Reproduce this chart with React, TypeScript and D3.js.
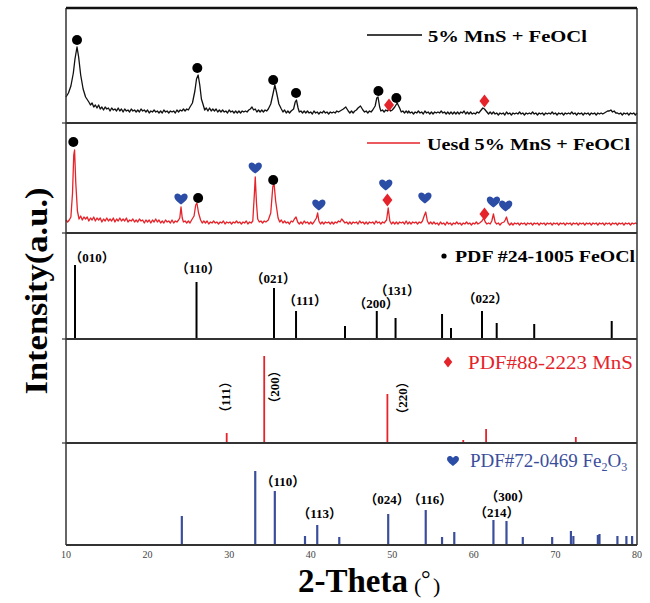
import React from 'react';
import * as d3 from 'd3';

// ---------- DATA ----------
const X_TICKS = [10, 20, 30, 40, 50, 60, 70, 80];

// 5% MnS + FeOCl (fresh) pattern: [2theta, intensity a.u.]
const FRESH_PATTERN: [number, number][] = [
  [10.0, 26], [10.3, 30], [10.6, 37], [10.9, 50], [11.1, 64], [11.35, 76], [11.55, 66], [11.8, 48], [12.1, 34], [12.4, 26],
  [12.8, 21], [13.0, 18], [13.2, 20], [13.4, 16], [13.6, 18], [13.8, 15], [14.0, 18], [14.2, 14], [14.4, 16], [14.6, 13], [14.8, 16], [15.0, 14], [15.2, 15], [15.4, 12], [15.6, 15], [15.8, 13], [16.0, 14], [16.2, 12], [16.4, 15],
  [16.6, 12], [16.8, 14], [17.0, 11], [17.2, 14], [17.4, 12], [17.6, 13], [17.8, 11], [18.0, 14], [18.2, 12], [18.4, 13], [18.6, 11], [18.8, 13], [19.0, 11], [19.2, 14], [19.4, 12], [19.6, 13], [19.8, 11], [20.0, 13], [20.2, 10], [20.4, 12],
  [20.6, 11], [20.8, 13], [21.0, 11], [21.2, 12], [21.4, 10], [21.6, 12], [21.8, 10], [22.0, 13], [22.2, 11], [22.4, 12], [22.6, 10], [22.8, 12], [23.0, 11], [23.2, 12], [23.4, 10], [23.6, 13], [23.8, 11], [24.0, 13], [24.2, 12], [24.4, 14],
  [24.6, 12], [24.8, 14], [25.0, 13], [25.2, 16], [25.5, 20], [25.8, 32], [26.0, 44], [26.2, 48], [26.4, 38], [26.6, 24], [26.9, 16], [27.0, 13], [27.2, 15],
  [27.4, 12], [27.6, 15], [27.8, 12], [28.0, 14], [28.2, 12], [28.4, 14], [28.6, 11], [28.8, 13], [29.0, 11], [29.2, 13], [29.4, 11], [29.6, 12], [29.8, 10], [30.0, 13], [30.2, 11], [30.4, 12], [30.6, 10], [30.8, 12], [31.0, 10], [31.2, 12],
  [31.4, 10], [31.6, 12], [31.8, 11], [32.0, 12], [32.2, 11], [32.4, 13], [32.6, 14], [32.8, 16], [33.0, 13], [33.2, 14], [33.4, 11], [33.6, 13], [33.8, 11], [34.0, 13], [34.2, 11], [34.4, 13], [34.6, 12], [34.8, 14], [35.1, 19],
  [35.4, 30], [35.6, 38], [35.8, 31], [36.1, 19], [36.4, 14], [36.6, 11], [36.8, 13], [37.0, 10], [37.2, 12], [37.4, 10], [37.6, 12], [37.9, 14], [38.1, 21],
  [38.25, 23], [38.45, 15], [38.6, 11], [38.8, 12], [39.0, 10], [39.2, 12], [39.4, 10], [39.6, 12], [39.8, 10], [40.0, 11], [40.2, 9], [40.4, 12], [40.6, 10], [40.8, 11], [41.0, 9], [41.2, 11], [41.4, 10], [41.6, 12],
  [41.8, 10], [42.0, 11], [42.2, 9], [42.4, 11], [42.6, 10], [42.8, 11], [43.0, 10], [43.2, 12], [43.4, 11], [43.6, 12], [43.8, 13], [44.0, 14], [44.3, 16], [44.6, 12], [44.8, 10], [45.0, 12], [45.2, 10], [45.4, 12],
  [45.6, 13], [45.8, 15], [46.1, 17], [46.4, 13], [46.6, 11], [46.8, 12], [47.0, 10], [47.2, 12], [47.4, 11], [47.6, 13], [47.9, 17], [48.1, 25], [48.25, 26], [48.45, 16],
  [48.6, 12], [48.8, 13], [49.0, 11], [49.2, 13], [49.4, 12], [49.6, 14], [49.8, 12], [50.0, 13], [50.3, 16], [50.6, 20], [50.9, 15], [51.1, 11], [51.3, 12], [51.5, 10], [51.7, 12], [51.9, 10], [52.0, 12],
  [52.2, 10], [52.4, 11], [52.6, 9], [52.8, 11], [53.0, 10], [53.2, 12], [53.4, 10], [53.6, 11], [53.8, 9], [54.0, 12], [54.2, 10], [54.4, 11], [54.6, 9], [54.8, 11], [55.0, 9], [55.2, 11], [55.4, 10], [55.6, 11], [55.8, 10], [56.0, 12],
  [56.2, 10], [56.4, 11], [56.6, 9], [56.8, 11], [57.0, 9], [57.2, 11], [57.4, 9], [57.6, 11], [57.8, 9], [58.0, 11], [58.2, 9], [58.4, 11], [58.6, 10], [58.8, 12], [59.0, 9], [59.2, 11], [59.4, 9], [59.6, 11], [59.8, 9], [60.0, 10],
  [60.2, 9], [60.4, 11], [60.6, 10], [60.8, 12], [61.1, 15], [61.3, 14], [61.6, 11], [61.8, 9], [62.0, 11], [62.2, 9], [62.4, 11], [62.6, 9], [62.8, 10], [63.0, 8], [63.2, 10], [63.4, 9], [63.6, 10],
  [63.8, 8], [64.0, 11], [64.2, 9], [64.4, 10], [64.6, 8], [64.8, 10], [65.0, 9], [65.2, 10], [65.4, 9], [65.6, 11], [65.8, 9], [66.0, 10], [66.2, 8], [66.4, 10], [66.6, 9], [66.8, 10], [67.0, 9], [67.2, 11], [67.4, 9], [67.6, 10],
  [67.8, 8], [68.0, 10], [68.2, 9], [68.4, 10], [68.6, 8], [68.8, 10], [69.0, 9], [69.2, 10], [69.4, 9], [69.6, 11], [69.8, 9], [70.0, 10], [70.2, 8], [70.4, 10], [70.6, 9], [70.8, 10], [71.0, 8], [71.2, 10], [71.4, 9], [71.6, 10],
  [71.8, 9], [72.0, 11], [72.2, 9], [72.4, 10], [72.6, 8], [72.8, 10], [73.0, 9], [73.2, 10], [73.4, 8], [73.6, 10], [73.8, 9], [74.0, 10], [74.2, 8], [74.4, 10], [74.6, 9], [74.8, 10], [75.0, 8], [75.2, 10], [75.4, 9], [75.6, 10],
  [75.8, 9], [76.0, 10], [76.2, 11], [76.4, 12], [76.6, 12], [76.8, 13], [77.0, 11], [77.2, 12], [77.4, 10], [77.6, 10], [77.8, 9], [78.0, 10], [78.2, 8], [78.4, 10], [78.6, 9], [78.8, 10], [79.0, 8], [79.2, 10], [79.4, 9], [79.6, 10], [79.8, 8], [80.0, 10],
];

// Used 5% MnS + FeOCl pattern
const USED_PATTERN: [number, number][] = [
  [10.0, 13], [10.2, 11], [10.4, 13], [10.6, 16], [10.8, 40], [10.95, 78], [11.05, 83], [11.2, 50], [11.4, 22], [11.6, 14], [11.8, 17], [12.0, 13],
  [12.2, 16], [12.4, 14], [12.6, 16], [12.8, 12], [13.0, 15], [13.2, 13], [13.4, 16], [13.6, 12], [13.8, 15], [14.0, 13], [14.2, 15], [14.4, 11], [14.6, 14], [14.8, 12], [15.0, 15], [15.2, 12], [15.4, 14], [15.6, 12], [15.8, 15], [16.0, 11],
  [16.2, 14], [16.4, 12], [16.6, 15], [16.8, 12], [17.0, 14], [17.2, 12], [17.4, 15], [17.6, 11], [17.8, 13], [18.0, 12], [18.2, 14], [18.4, 11], [18.6, 13], [18.8, 11], [19.0, 14], [19.2, 12], [19.4, 13], [19.6, 10], [19.8, 13], [20.0, 11],
  [20.2, 13], [20.4, 10], [20.6, 13], [20.8, 11], [21.0, 14], [21.2, 11], [21.4, 13], [21.6, 10], [21.8, 12], [22.0, 10], [22.2, 13], [22.4, 11], [22.6, 12], [22.8, 10], [23.0, 13], [23.2, 10], [23.4, 12], [23.6, 11], [23.8, 13], [23.95, 15],
  [24.1, 26], [24.25, 15], [24.4, 11], [24.6, 12], [24.8, 10], [25.0, 12], [25.2, 10], [25.4, 13], [25.7, 17], [25.9, 28], [26.05, 30], [26.25, 20], [26.5, 13],
  [26.7, 10], [26.9, 12], [27.1, 10], [27.3, 12], [27.5, 9], [27.7, 11], [27.9, 10], [28.1, 12], [28.3, 10], [28.5, 11], [28.7, 9], [28.9, 11], [29.1, 10], [29.3, 12], [29.5, 9], [29.7, 11], [29.9, 10], [30.1, 11], [30.3, 9], [30.5, 11],
  [30.7, 10], [30.9, 12], [31.1, 10], [31.3, 11], [31.5, 9], [31.7, 11], [31.9, 10], [32.1, 12], [32.3, 9], [32.5, 11], [32.7, 10], [32.9, 12], [33.1, 40], [33.2, 56], [33.35, 30], [33.5, 14], [33.7, 11],
  [33.9, 12], [34.1, 10], [34.3, 12], [34.5, 11], [34.8, 13], [35.1, 20], [35.35, 46], [35.5, 50], [35.7, 32], [36.0, 15], [36.2, 11], [36.4, 13], [36.6, 10], [36.8, 12],
  [37.0, 10], [37.2, 11], [37.4, 9], [37.6, 12], [37.8, 11], [38.0, 14], [38.2, 16], [38.4, 11], [38.6, 9], [38.8, 11], [39.0, 9], [39.2, 12], [39.4, 10], [39.6, 11], [39.8, 9], [40.0, 11], [40.2, 9], [40.4, 11],
  [40.7, 15], [40.85, 20], [41.0, 12], [41.2, 9], [41.4, 11], [41.6, 9], [41.8, 11], [42.0, 10], [42.2, 11], [42.4, 9], [42.6, 11], [42.8, 9], [43.0, 11], [43.2, 10], [43.4, 12], [43.6, 11], [43.8, 14],
  [44.0, 12], [44.2, 10], [44.4, 11], [44.6, 9], [44.8, 11], [45.0, 9], [45.2, 11], [45.4, 10], [45.6, 11], [45.8, 9], [46.0, 12], [46.2, 10], [46.4, 11], [46.6, 9], [46.8, 11], [47.0, 9], [47.2, 11], [47.4, 10], [47.6, 11], [47.8, 9],
  [48.0, 12], [48.2, 10], [48.4, 11], [48.6, 9], [48.8, 11], [49.0, 10], [49.3, 13], [49.5, 25], [49.7, 12], [49.9, 9], [50.1, 11], [50.3, 9], [50.5, 11], [50.7, 9], [50.9, 11], [51.1, 10],
  [51.3, 11], [51.5, 9], [51.7, 12], [51.9, 9], [52.1, 11], [52.3, 9], [52.5, 11], [52.7, 10], [52.9, 11], [53.1, 9], [53.3, 11], [53.5, 10], [53.7, 12], [53.95, 18], [54.1, 21], [54.3, 12], [54.5, 9],
  [54.7, 11], [54.9, 9], [55.1, 11], [55.3, 9], [55.5, 10], [55.7, 8], [55.9, 11], [56.1, 9], [56.3, 10], [56.5, 8], [56.7, 11], [56.9, 9], [57.1, 10], [57.3, 8], [57.5, 10], [57.7, 9], [57.9, 11], [58.1, 9], [58.3, 10], [58.5, 8],
  [58.7, 10], [58.9, 9], [59.1, 11], [59.3, 9], [59.5, 10], [59.7, 8], [59.9, 10], [60.1, 9], [60.3, 11], [60.5, 9], [60.7, 10], [61.0, 12], [61.2, 15], [61.4, 11], [61.6, 9], [61.8, 10], [62.0, 9], [62.2, 12],
  [62.4, 19], [62.6, 11], [62.8, 9], [63.0, 10], [63.2, 8], [63.4, 10], [63.7, 11], [63.85, 13], [64.0, 16], [64.2, 10], [64.4, 8], [64.6, 10], [64.8, 8], [65.0, 10], [65.2, 9], [65.4, 10],
  [65.6, 8], [65.8, 10], [66.0, 9], [66.2, 10], [66.4, 8], [66.6, 10], [66.8, 9], [67.0, 10], [67.2, 8], [67.4, 10], [67.6, 9], [67.8, 10], [68.0, 8], [68.2, 10], [68.4, 9], [68.6, 10], [68.8, 8], [69.0, 10], [69.2, 9], [69.4, 10],
  [69.6, 8], [69.8, 10], [70.0, 9], [70.2, 10], [70.4, 8], [70.6, 10], [70.8, 9], [71.0, 10], [71.2, 8], [71.4, 10], [71.6, 9], [71.8, 10], [72.0, 8], [72.2, 10], [72.4, 9], [72.6, 10], [72.8, 8], [73.0, 10], [73.2, 9], [73.4, 10],
  [73.6, 8], [73.8, 10], [74.0, 9], [74.2, 10], [74.4, 8], [74.6, 10], [74.8, 9], [75.0, 10], [75.2, 8], [75.4, 10], [75.6, 9], [75.8, 10], [76.0, 8], [76.2, 10], [76.4, 9], [76.6, 10], [76.8, 8], [77.0, 10], [77.2, 9], [77.4, 10],
  [77.6, 8], [77.8, 10], [78.0, 9], [78.2, 10], [78.4, 8], [78.6, 10], [78.8, 9], [79.0, 10], [79.2, 8], [79.4, 10], [79.6, 9], [79.8, 10], [80.0, 9],
];

// Phase markers over the measured patterns: [2theta, intensity, phase]
const FRESH_MARKS: [number, number, string][] = [
  [11.35, 83, 'FeOCl'], [26.1, 55, 'FeOCl'], [35.4, 43, 'FeOCl'], [38.2, 30, 'FeOCl'],
  [48.3, 32, 'FeOCl'], [50.5, 25, 'FeOCl'], [49.6, 18, 'MnS'], [61.3, 22, 'MnS'],
];
const USED_MARKS: [number, number, string][] = [
  [10.9, 91, 'FeOCl'], [24.1, 34, 'Fe2O3'], [26.2, 35, 'FeOCl'], [33.2, 65, 'Fe2O3'],
  [35.4, 53, 'FeOCl'], [41.0, 28, 'Fe2O3'], [49.2, 48, 'Fe2O3'], [49.4, 33, 'MnS'],
  [54.0, 35, 'Fe2O3'], [61.3, 19, 'MnS'], [62.4, 31, 'Fe2O3'], [63.9, 27, 'Fe2O3'],
];

// Reference cards: [2theta, relative intensity]
const FEOCL_REF: [number, number][] = [
  [11.1, 74], [26.0, 57], [35.5, 51], [38.2, 28], [44.2, 13], [48.1, 28], [50.4, 21],
  [56.1, 25], [57.2, 11], [61.0, 28], [62.8, 16], [67.4, 15], [76.9, 18],
];
const MNS_REF: [number, number][] = [
  [29.7, 10], [34.3, 87], [49.4, 49], [58.7, 3], [61.5, 14], [72.5, 6],
];
const FE2O3_REF: [number, number][] = [
  [24.2, 29], [33.2, 74], [35.6, 54], [39.3, 9], [40.8, 20], [43.5, 8], [49.5, 31], [54.1, 35],
  [56.1, 8], [57.6, 13], [62.4, 25], [64.0, 24], [66.0, 8], [69.6, 8], [71.9, 14], [72.2, 9],
  [75.2, 10], [75.4, 11], [77.6, 9], [78.7, 9], [79.4, 9],
];

// Miller index labels: [hkl, 2theta, intensity]
const FEOCL_HKL: [string, number, number][] = [
  ['010', 13.2, 82], ['110', 26.2, 71], ['021', 35.4, 61], ['111', 39.3, 39],
  ['200', 48.0, 36], ['131', 50.6, 49], ['022', 61.4, 41],
];
const MNS_HKL: [string, number, number][] = [
  ['111', 29.6, 46], ['200', 35.6, 56], ['220', 51.3, 45],
];
const FE2O3_HKL: [string, number, number][] = [
  ['110', 36.6, 64], ['113', 41.1, 32], ['024', 49.35, 46], ['116', 54.6, 46],
  ['214', 62.8, 33], ['300', 64.2, 49],
];

// ---------- LAYOUT / STYLE ----------
const W = 650, H = 603;
const LEFT = 66, RIGHT = 637;
const PANELS = [[8, 123], [123, 233], [233, 339], [339, 443], [443, 545]];
const RED = '#e5232a';
const BLUE = '#3a4e9c';
const HEART_BLUE = '#2c4da6';
const SERIF = '"Times New Roman", "Liberation Serif", "DejaVu Serif", serif';
const HKL_FONT = '"Liberation Serif", "Noto Sans CJK SC", serif';

const x = d3.scaleLinear().domain([10, 80]).range([LEFT, RIGHT]);
const yFor = (i: number) => d3.scaleLinear().domain([0, PANELS[i][1] - PANELS[i][0]]).range([PANELS[i][1], PANELS[i][0]]);

const HEART = 'M0,5.5 C-3,3.2 -7,0.5 -6.6,-2.8 C-6.2,-6 -2.2,-6.6 0,-3.4 C2.2,-6.6 6.2,-6 6.6,-2.8 C7,0.5 3,3.2 0,5.5Z';
const DIAMOND = 'M0,-6.5 L5,0 L0,6.5 L-5,0Z';

function Marker({ cx, cy, phase }: { cx: number; cy: number; phase: string }) {
  if (phase === 'FeOCl') return <circle cx={cx} cy={cy} r={5} fill="#000" />;
  if (phase === 'MnS') return <path d={DIAMOND} transform={`translate(${cx},${cy})`} fill={RED} />;
  return <path d={HEART} transform={`translate(${cx},${cy})`} fill={HEART_BLUE} />;
}

function hklText(h: string) {
  return `（${h}）`;
}

export default function App() {
  const y0 = yFor(0), y1 = yFor(1), y2 = yFor(2), y3 = yFor(3), y4 = yFor(4);
  const line0 = d3.line<[number, number]>().x(d => x(d[0])).y(d => y0(d[1]));
  const line1 = d3.line<[number, number]>().x(d => x(d[0])).y(d => y1(d[1]));
  const hklProps = { fontFamily: HKL_FONT, fontWeight: 'bold', fontSize: 13, fill: '#000' } as const;

  return (
    <svg width={W} height={H} viewBox={`0 0 ${W} ${H}`} style={{ position: 'absolute', left: 0, top: 0, background: '#fff' }}>
      <rect x={0} y={0} width={W} height={H} fill="#fff" />
      {/* patterns */}
      <path d={line0(FRESH_PATTERN) || ''} fill="none" stroke="#111" strokeWidth={1.3} strokeLinejoin="round" />
      <path d={line1(USED_PATTERN) || ''} fill="none" stroke={RED} strokeWidth={1.3} strokeLinejoin="round" />

      {FRESH_MARKS.map((m, i) => <Marker key={'fm' + i} cx={x(m[0])} cy={y0(m[1])} phase={m[2]} />)}
      {USED_MARKS.map((m, i) => <Marker key={'um' + i} cx={x(m[0])} cy={y1(m[1])} phase={m[2]} />)}

      {/* reference sticks */}
      {FEOCL_REF.map((d, i) => (
        <line key={'fr' + i} x1={x(d[0])} x2={x(d[0])} y1={y2(0)} y2={y2(d[1])} stroke="#000" strokeWidth={2} />
      ))}
      {MNS_REF.map((d, i) => (
        <line key={'mr' + i} x1={x(d[0])} x2={x(d[0])} y1={y3(0)} y2={y3(d[1])} stroke={RED} strokeWidth={1.8} />
      ))}
      {FE2O3_REF.map((d, i) => (
        <line key={'er' + i} x1={x(d[0])} x2={x(d[0])} y1={y4(0)} y2={y4(d[1])} stroke={BLUE} strokeWidth={2.2} />
      ))}

      {/* hkl labels */}
      {FEOCL_HKL.map((d, i) => (
        <text key={'fh' + i} x={x(d[1])} y={y2(d[2])} textAnchor="middle" dominantBaseline="central" {...hklProps}>{hklText(d[0])}</text>
      ))}
      {MNS_HKL.map((d, i) => (
        <text key={'mh' + i} transform={`translate(${x(d[1])},${y3(d[2])}) rotate(-90)`} textAnchor="middle" dominantBaseline="central" {...hklProps}>{hklText(d[0])}</text>
      ))}
      {FE2O3_HKL.map((d, i) => (
        <text key={'eh' + i} x={x(d[1])} y={y4(d[2])} textAnchor="middle" dominantBaseline="central" {...hklProps}>{hklText(d[0])}</text>
      ))}

      {/* legends */}
      <line x1={367} x2={422} y1={35} y2={35} stroke="#000" strokeWidth={1.3} />
      <text x={428} y={42} fontFamily={SERIF} fontWeight="bold" fontSize={17} textLength={159} lengthAdjust="spacingAndGlyphs">5% MnS + FeOCl</text>

      <line x1={367} x2={420} y1={143} y2={143} stroke={RED} strokeWidth={1.3} />
      <text x={427} y={150} fontFamily={SERIF} fontWeight="bold" fontSize={17} textLength={203} lengthAdjust="spacingAndGlyphs">Uesd 5% MnS + FeOCl</text>

      <circle cx={444} cy={256} r={2.6} fill="#000" />
      <text x={455} y={262} fontFamily={SERIF} fontWeight="bold" fontSize={17} textLength={180} lengthAdjust="spacingAndGlyphs">PDF #24-1005 FeOCl</text>

      <path d={DIAMOND} transform="translate(448,362) scale(0.85)" fill={RED} />
      <text x={468} y={369} fontFamily={SERIF} fontSize={19} fill={RED} textLength={165} lengthAdjust="spacingAndGlyphs">PDF#88-2223 MnS</text>

      <path d={HEART} transform="translate(453,461) scale(0.9)" fill={HEART_BLUE} />
      <text x={470} y={467} fontFamily={SERIF} fontSize={19} fill={BLUE}>
        PDF#72-0469 Fe<tspan fontSize={12} dy={4}>2</tspan><tspan dy={-4}>O</tspan><tspan fontSize={12} dy={4}>3</tspan>
      </text>

      {/* frame */}
      <line x1={LEFT} x2={LEFT} y1={PANELS[0][0]} y2={PANELS[4][1]} stroke="#333" strokeWidth={1.5} />
      <line x1={RIGHT} x2={RIGHT} y1={PANELS[0][0]} y2={PANELS[4][1]} stroke="#333" strokeWidth={1.5} />
      <line x1={LEFT} x2={RIGHT} y1={PANELS[0][0]} y2={PANELS[0][0]} stroke="#111" strokeWidth={2.5} />
      {PANELS.map((p, i) => (
        <line key={'pb' + i} x1={LEFT} x2={RIGHT} y1={p[1]} y2={p[1]} stroke="#333" strokeWidth={2} />
      ))}
      {PANELS.slice(0, 4).map((p, i) => (
        <line key={'lt' + i} x1={LEFT - 4} x2={LEFT} y1={p[1]} y2={p[1]} stroke="#333" strokeWidth={1.2} />
      ))}

      {/* x axis tick labels */}
      {X_TICKS.map(t => (
        <text key={'xt' + t} x={x(t)} y={558} textAnchor="middle" fontFamily={SERIF} fontSize={10} fill="#444">{t}</text>
      ))}

      {/* axis titles */}
      <text transform="translate(47,291) rotate(-90)" textAnchor="middle" fontFamily={SERIF} fontWeight="bold" fontSize={31} fill="#000" textLength={207} lengthAdjust="spacingAndGlyphs">Intensity(a.u.)</text>
      <text x={298} y={592} fontFamily={SERIF} fontWeight="bold" fontSize={33} fill="#000" textLength={110} lengthAdjust="spacingAndGlyphs">2-Theta</text>
      <text x={414} y={593} fontFamily={SERIF} fontSize={22} fill="#000">(</text>
      <text x={421} y={587} fontFamily={SERIF} fontSize={24} fill="#000">°</text>
      <text x={433} y={593} fontFamily={SERIF} fontSize={22} fill="#000">)</text>
    </svg>
  );
}
